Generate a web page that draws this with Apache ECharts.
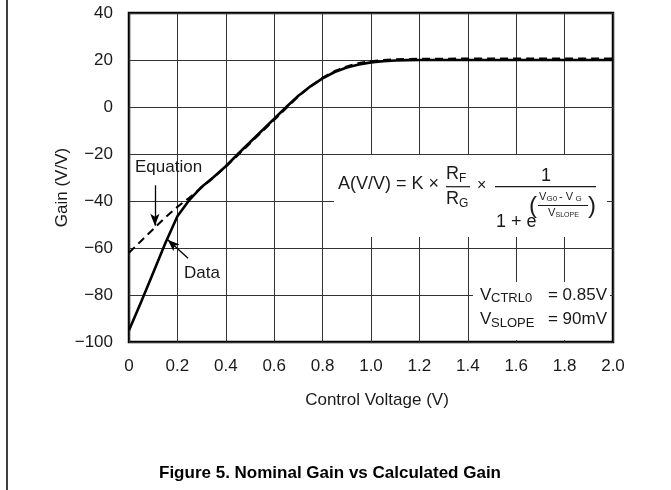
<!DOCTYPE html>
<html>
<head>
<meta charset="utf-8">
<script src="https://cdn.jsdelivr.net/npm/echarts@6/dist/echarts.min.js"></script>
<style>
html,body{margin:0;padding:0;background:#fff;}
#c{width:671px;height:490px;}
</style>
</head>
<body>
<div id="c"></div>
<script>
// ---- data ----
var dataX = [0, 0.05, 0.1, 0.15, 0.2, 0.25, 0.3, 0.35, 0.4, 0.45, 0.5, 0.55, 0.6, 0.65, 0.7, 0.75, 0.8, 0.85, 0.9, 0.95, 1.0, 1.05, 1.1, 1.15, 1.2, 1.4, 1.6, 1.8, 2.0];
var dataGain = [-95, -83, -70.5, -58, -46.5, -39.5, -34, -29.8, -25.2, -20, -15, -10, -5, 0, 4.8, 8.8, 12.2, 14.9, 16.8, 18.1, 19, 19.5, 19.8, 19.95, 20, 20, 20, 20, 20];
var eqX = [0, 0.05, 0.1, 0.15, 0.2, 0.25, 0.3, 0.35, 0.4, 0.45, 0.5, 0.55, 0.6, 0.65, 0.7, 0.75, 0.8, 0.85, 0.9, 0.95, 1.0, 1.05, 1.1, 1.15, 1.2, 1.4, 1.6, 1.8, 2.0];
var eqGain = [-62, -57, -52, -47, -42.5, -38.5, -34.3, -30, -25.4, -20.5, -15.5, -10.5, -5.5, -0.5, 4.5, 8.7, 12.5, 15.3, 17.3, 18.7, 19.5, 20, 20.3, 20.45, 20.55, 20.6, 20.6, 20.6, 20.6];
var xTicks = ['0', '0.2', '0.4', '0.6', '0.8', '1.0', '1.2', '1.4', '1.6', '1.8', '2.0'];
var yTicks = ['\u2212100', '\u221280', '\u221260', '\u221240', '\u221220', '0', '20', '40'];
var xName = 'Control Voltage (V)';
var yName = 'Gain (V/V)';
var titleText = 'Figure 5. Nominal Gain vs Calculated Gain';
// annotation arrows (data coordinates)
var eqArrow = [[0.107, -33.3], [0.107, -50.5]];
var dataArrow = [[0.244, -64.4], [0.16, -56.5]];

function pairs(xs, ys) { return xs.map(function (x, i) { return [x, ys[i]]; }); }

var FF = 'Liberation Sans, Arial, Helvetica, sans-serif';
var TC = '#1a1a1a';
var chart = echarts.init(document.getElementById('c'), null, {renderer: 'canvas'});

function txt(t, x, y, size, align, weight) {
  return {type: 'text', x: x, y: y, z: 100,
    style: {text: t, fill: TC, font: (weight || 'normal') + ' ' + size + 'px ' + FF,
      textAlign: align || 'left', textVerticalAlign: 'middle'}};
}
function bar(x1, x2, y) {
  return {type: 'line', z: 100, shape: {x1: x1, y1: y, x2: x2, y2: y}, style: {stroke: TC, lineWidth: 1.2}};
}

var option = {
  animation: false,
  backgroundColor: '#fff',
  title: {text: titleText, left: 325, top: 460, textAlign: 'center',
    textStyle: {fontFamily: FF, fontSize: 17, fontWeight: 'bold', color: '#000'}},
  grid: {left: 129, right: 58, top: 13, bottom: 148, show: true, borderColor: '#000', borderWidth: 2.5, backgroundColor: 'transparent'},
  xAxis: {type: 'value', min: 0, max: 2, interval: 0.2,
    name: xName, nameLocation: 'middle', nameGap: 50, nameMoveOverlap: false,
    nameTextStyle: {fontFamily: FF, fontSize: 17, color: TC, padding: [0, 0, 0, 12]},
    axisLine: {show: false}, axisTick: {show: false},
    axisLabel: {fontFamily: FF, fontSize: 17, color: TC, margin: 16,
      formatter: function (v) { return xTicks[Math.round(v / 0.2)]; }},
    splitLine: {show: true, lineStyle: {color: '#333', width: 1}}},
  yAxis: {type: 'value', min: -100, max: 40, interval: 20,
    name: yName, nameLocation: 'middle', nameGap: 58, nameRotate: 90, nameMoveOverlap: false,
    nameTextStyle: {fontFamily: FF, fontSize: 17, color: TC, padding: [0, 20, 0, 0]},
    axisLine: {show: false}, axisTick: {show: false},
    axisLabel: {fontFamily: FF, fontSize: 17, color: TC, margin: 16,
      formatter: function (v) { return yTicks[Math.round((v + 100) / 20)]; }},
    splitLine: {show: true, lineStyle: {color: '#333', width: 1}}},
  series: [
    {name: 'Data', type: 'line', data: pairs(dataX, dataGain), showSymbol: false, smooth: false,
      lineStyle: {color: '#000', width: 2.6, join: 'round'}, z: 3,
      markLine: {silent: true, symbol: ['none', 'arrow'], symbolSize: [7, 12], label: {show: false},
        lineStyle: {color: '#000', width: 1.3, type: 'solid'},
        data: [
          [{coord: eqArrow[0]}, {coord: eqArrow[1]}],
          [{coord: dataArrow[0]}, {coord: dataArrow[1]}]
        ]}},
    {name: 'Equation', type: 'line', data: pairs(eqX, eqGain), showSymbol: false, smooth: false,
      lineStyle: {color: '#000', width: 2, type: [8, 5]}, z: 4}
  ],
  graphic: [
    {type: 'line', shape: {x1: 7, y1: 0, x2: 7, y2: 490}, style: {stroke: '#000', lineWidth: 1.5}},
    // formula box
    {type: 'rect', z: 90, shape: {x: 334, y: 155, width: 273, height: 82}, style: {fill: '#fff'}},
    txt('A(V/V) = K \u00d7', 338, 184, 18),
    txt('R', 446, 174, 18), txt('F', 459, 178.5, 12),
    bar(446, 470, 186.7),
    txt('R', 446, 199, 18), txt('G', 459, 203.5, 12),
    txt('\u00d7', 477, 186, 16),
    bar(495, 596, 186.7),
    txt('1', 546, 176, 18, 'center'),
    txt('1 + e', 496, 222, 18),
    txt('(', 529, 206, 24),
    txt('V', 539, 197, 11), txt('G0', 546.5, 199, 8), txt(' - V', 556, 197, 11), txt('G', 575.5, 199, 8),
    bar(538, 588, 205.5),
    txt('V', 548, 213, 11), txt('SLOPE', 555.5, 215, 7),
    txt(')', 588, 206, 24),
    // constants box
    {type: 'rect', z: 90, shape: {x: 473, y: 282, width: 137, height: 58}, style: {fill: '#fff'}},
    txt('V', 480, 295, 17), txt('CTRL0', 491, 298, 13), txt('= 0.85V', 607, 295, 17, 'right'),
    txt('V', 480, 319.5, 17), txt('SLOPE', 491, 323, 13), txt('= 90mV', 607, 319.5, 17, 'right'),
    // annotation labels
    txt('Equation', 135, 167, 17),
    txt('Data', 184, 273, 17)
  ]
};
chart.setOption(option);
</script>
</body>
</html>
